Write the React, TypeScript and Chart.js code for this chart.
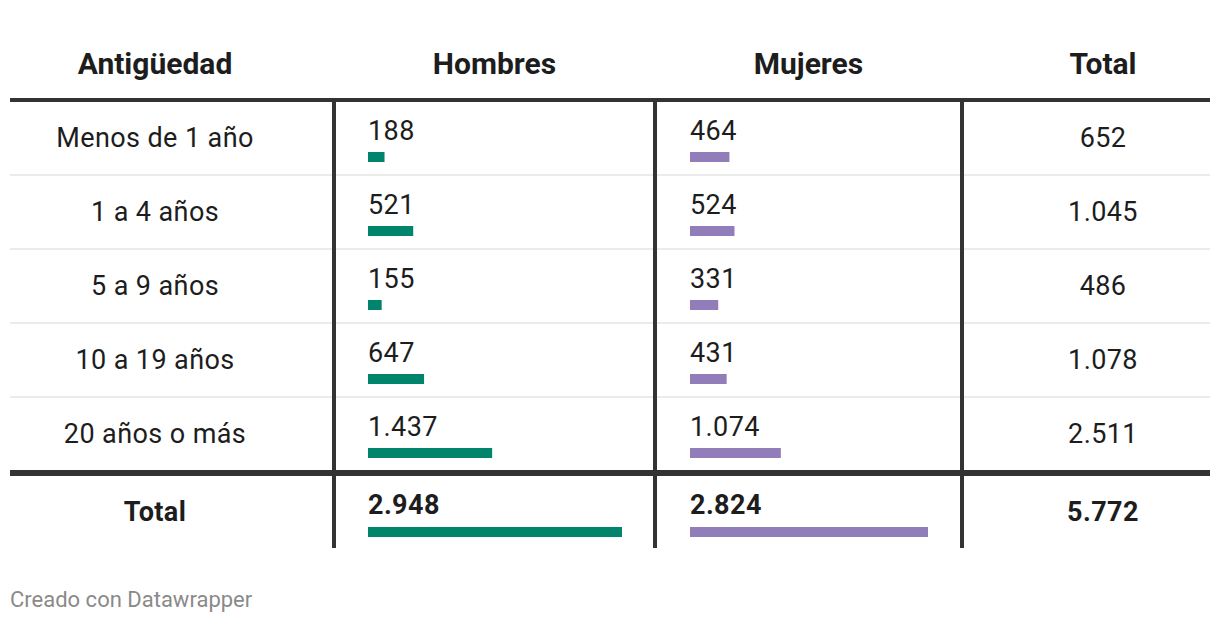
import React, { useEffect, useRef } from "react";
import { Chart, registerables } from "chart.js";

Chart.register(...registerables);

const headers = ["Antigüedad", "Hombres", "Mujeres", "Total"];
const categories = ["Menos de 1 año", "1 a 4 años", "5 a 9 años", "10 a 19 años", "20 años o más"];
const hombres = [188, 521, 155, 647, 1437];
const mujeres = [464, 524, 331, 431, 1074];
const totales = [652, 1045, 486, 1078, 2511];
const totalLabel = "Total";
const totalHombres = 2948;
const totalMujeres = 2824;
const totalGeneral = 5772;
const footer = "Creado con Datawrapper";

const GREEN = "#00846b";
const PURPLE = "#907dba";
const LINE = "#333333";
const TEXT = "#1d1d1d";
const FONT = "Roboto, 'Noto Sans', sans-serif";
const BODY_SIZE = 27;
const BODY_SPACING = "0.4px";

const fmt = (n: number) => String(n).replace(/\B(?=(\d{3})+(?!\d))/g, ".");

// layout
const LEFT = 10;
const RIGHT = 1210;
const V1 = 332, V2 = 653, V3 = 960, VW = 4;
const HEADER_LINE = 98;
const ROW0 = 102;
const ROW_PITCH = 74;
const ROW_H = 72;
const TOTAL_LINE = 470;
const TOTAL_ROW = 476;
const BOTTOM = 548;

const hCol = { left: V1 + VW, right: V2, pad: 32 };
const mCol = { left: V2 + VW, right: V3, pad: 33 };

function BarCell(props: { value: number; max: number; color: string; width: number; label: string }) {
  const ref = useRef<HTMLCanvasElement | null>(null);
  useEffect(() => {
    if (!ref.current) return;
    const chart = new Chart(ref.current, {
      type: "bar",
      data: {
        labels: [props.label],
        datasets: [
          {
            data: [props.value],
            backgroundColor: props.color,
            borderWidth: 0,
            barPercentage: 1,
            categoryPercentage: 1,
          },
        ],
      },
      options: {
        indexAxis: "y",
        animation: false,
        responsive: false,
        devicePixelRatio: 1,
        layout: { padding: 0 },
        plugins: { legend: { display: false }, tooltip: { enabled: false } },
        scales: {
          x: { display: false, min: 0, max: props.max },
          y: { display: false },
        },
      },
    });
    return () => chart.destroy();
  }, [props.value, props.max, props.color, props.width, props.label]);
  return <canvas ref={ref} width={props.width} height={10} style={{ display: "block" }} />;
}

export default function App() {
  const hMax = Math.max(totalHombres, ...hombres);
  const mMax = Math.max(totalMujeres, ...mujeres);
  const hW = 254;
  const mW = 238;

  const abs = (s: React.CSSProperties): React.CSSProperties => ({ position: "absolute", ...s });

  const rowTops = categories.map((_, i) => ROW0 + i * ROW_PITCH);

  const valueBlock = (
    key: string,
    value: number,
    max: number,
    color: string,
    col: { left: number; right: number; pad: number },
    w: number,
    top: number,
    bold: boolean,
    label: string,
    barOffset: number
  ) => (
    <React.Fragment key={key}>
      <div
        style={abs({
          left: col.left + col.pad,
          top: top + 14,
          height: 30,
          lineHeight: "30px",
          fontSize: BODY_SIZE,
          letterSpacing: BODY_SPACING,
          fontWeight: bold ? 700 : 400,
          whiteSpace: "nowrap",
          color: TEXT,
        })}
      >
        {fmt(value)}
      </div>
      <div style={abs({ left: col.left + col.pad, top: top + barOffset, width: w, height: 10 })}>
        <BarCell value={value} max={max} color={color} width={w} label={label} />
      </div>
    </React.Fragment>
  );

  const sideCell = (key: string, text: string, left: number, right: number, top: number, bold: boolean) => (
    <div
      key={key}
      style={abs({
        left,
        width: right - left,
        top,
        height: ROW_H,
        lineHeight: ROW_H + "px",
        fontSize: BODY_SIZE,
        letterSpacing: BODY_SPACING,
        fontWeight: bold ? 700 : 400,
        textAlign: "center",
        whiteSpace: "nowrap",
      })}
    >
      {text}
    </div>
  );

  const PADS = 32;

  return (
    <div
      style={{
        position: "absolute",
        left: 0,
        top: 0,
        width: 1220,
        height: 624,
        background: "#ffffff",
        fontFamily: FONT,
        color: TEXT,
        overflow: "hidden",
      }}
    >
      {/* headers */}
      {[
        { t: headers[0], l: LEFT, r: V1 - PADS },
        { t: headers[1], l: hCol.left, r: hCol.right },
        { t: headers[2], l: mCol.left, r: mCol.right },
        { t: headers[3], l: V3 + VW + PADS, r: RIGHT },
      ].map((h, i) => (
        <div
          key={"h" + i}
          style={abs({
            left: h.l,
            width: h.r - h.l,
            top: 44,
            height: 40,
            lineHeight: "40px",
            fontSize: 30,
            fontWeight: 700,
            textAlign: "center",
            color: TEXT,
          })}
        >
          {h.t}
        </div>
      ))}

      {/* row separators */}
      {rowTops.slice(1).map((t, i) => (
        <div key={"s" + i} style={abs({ left: LEFT, width: RIGHT - LEFT, top: t - 2, height: 2, background: "#ebebeb" })} />
      ))}

      {/* header & total lines */}
      <div style={abs({ left: LEFT, width: RIGHT - LEFT, top: HEADER_LINE, height: 4, background: LINE })} />
      <div style={abs({ left: LEFT, width: RIGHT - LEFT, top: TOTAL_LINE, height: 6, background: LINE })} />

      {/* vertical lines */}
      {[V1, V2, V3].map((x, i) => (
        <div key={"v" + i} style={abs({ left: x, width: VW, top: HEADER_LINE + 4, height: BOTTOM - HEADER_LINE - 4, background: LINE })} />
      ))}

      {/* body rows */}
      {categories.map((c, i) => {
        const top = rowTops[i];
        return (
          <React.Fragment key={"r" + i}>
            {sideCell("c" + i, c, LEFT, V1 - PADS, top, false)}
            {valueBlock("hb" + i, hombres[i], hMax, GREEN, hCol, hW, top, false, c, 50)}
            {valueBlock("mb" + i, mujeres[i], mMax, PURPLE, mCol, mW, top, false, c, 50)}
            {sideCell("t" + i, fmt(totales[i]), V3 + VW + PADS, RIGHT, top, false)}
          </React.Fragment>
        );
      })}

      {/* total row */}
      {sideCell("tl", totalLabel, LEFT, V1 - PADS, TOTAL_ROW, true)}
      {valueBlock("ht", totalHombres, hMax, GREEN, hCol, hW, TOTAL_ROW, true, totalLabel, 51)}
      {valueBlock("mt", totalMujeres, mMax, PURPLE, mCol, mW, TOTAL_ROW, true, totalLabel, 51)}
      {sideCell("tg", fmt(totalGeneral), V3 + VW + PADS, RIGHT, TOTAL_ROW, true)}

      {/* footer */}
      <div style={abs({ left: LEFT, top: 585, height: 30, lineHeight: "30px", fontSize: 22, color: "#8a8a8a", whiteSpace: "nowrap" })}>
        {footer}
      </div>
    </div>
  );
}
